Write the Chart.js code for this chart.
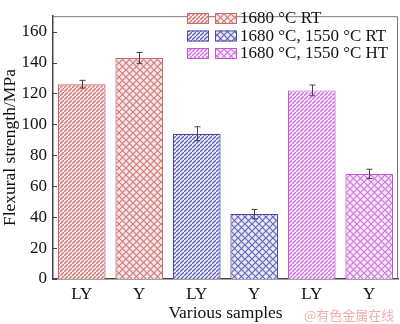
<!DOCTYPE html>
<html>
<head>
<meta charset="utf-8">
<script src="https://cdn.jsdelivr.net/npm/chart.js@4.4.0/dist/chart.umd.min.js"></script>
<style>
  html, body { margin: 0; padding: 0; background: #fff; }
  #wrap { width: 400px; height: 324px; }
</style>
</head>
<body>
<div id="wrap"><canvas id="flexChart"></canvas></div>
<script>
// --- Data ---
const samples = ["LY", "Y", "LY", "Y", "LY", "Y"];
const strength = [126, 143, 94, 42, 122, 68];
const strengthErr = [2.5, 3.5, 4.5, 3, 3.5, 3];
const groupNames = ["1680 °C RT", "1680 °C, 1550 °C RT", "1680 °C, 1550 °C HT"];
const yTicks = [0, 20, 40, 60, 80, 100, 120, 140, 160];

const serif = "'Liberation Serif', 'DejaVu Serif', serif";

// colour per treatment group: outline, hatch line, pale background
const groupColors = [
  { line: "#c86a6a", hatch: "#d07c7c", bg: "#fae6e6" },
  { line: "#4a4aa8", hatch: "#6464bc", bg: "#ececf8" },
  { line: "#c455d4", hatch: "#d276e0", bg: "#fae8fc" },
];

// hatch patterns: "/" lines for LY, crossed lines for Y
function makePattern(c, cross) {
  const size = cross ? 7 : 4;
  const p = document.createElement("canvas");
  p.width = size;
  p.height = size;
  const g = p.getContext("2d");
  g.fillStyle = c.bg;
  g.fillRect(0, 0, size, size);
  g.strokeStyle = c.hatch;
  g.lineWidth = cross ? 1.2 : 1.3;
  g.beginPath();
  g.moveTo(-1, size + 1);
  g.lineTo(size + 1, -1);
  if (cross) {
    g.moveTo(-1, -1);
    g.lineTo(size + 1, size + 1);
  }
  g.stroke();
  return g.createPattern(p, "repeat");
}

const fills = samples.map((s, i) => makePattern(groupColors[Math.floor(i / 2)], s === "Y"));
const borders = samples.map((s, i) => groupColors[Math.floor(i / 2)].line);

// error bars, inward ticks, frame, legend and credit line
const extras = {
  id: "extras",
  afterDatasetsDraw(chart) {
    const { ctx, chartArea: a, scales: { x, y } } = chart;
    ctx.save();

    // error bars
    ctx.strokeStyle = "#444";
    ctx.lineWidth = 1;
    strength.forEach((v, i) => {
      const cx = Math.round(x.getPixelForValue(i)) + 0.5;
      const t = y.getPixelForValue(v + strengthErr[i]);
      const b = y.getPixelForValue(v - strengthErr[i]);
      ctx.beginPath();
      ctx.moveTo(cx, t); ctx.lineTo(cx, b);
      ctx.moveTo(cx - 3, t); ctx.lineTo(cx + 3, t);
      ctx.moveTo(cx - 3, b); ctx.lineTo(cx + 3, b);
      ctx.stroke();
    });

    // frame top/right
    ctx.strokeStyle = "#777";
    ctx.lineWidth = 1;
    ctx.beginPath();
    ctx.moveTo(a.left, a.top + 0.5);
    ctx.lineTo(a.right - 0.5, a.top + 0.5);
    ctx.lineTo(a.right - 0.5, a.bottom);
    ctx.stroke();

    // inward y ticks
    ctx.strokeStyle = "#444";
    ctx.beginPath();
    yTicks.forEach(v => {
      const py = Math.round(y.getPixelForValue(v)) + 0.5;
      ctx.moveTo(a.left, py);
      ctx.lineTo(a.left + 4, py);
    });
    ctx.stroke();

    // legend: two swatches per group
    ctx.font = "17px " + serif;
    ctx.textBaseline = "middle";
    groupNames.forEach((name, g) => {
      const ry = 18 + g * 17.5;
      [false, true].forEach((cross, k) => {
        const bx = 187 + k * 28;
        ctx.fillStyle = makePattern(groupColors[g], cross);
        ctx.fillRect(bx, ry - 5, 22, 11);
        ctx.strokeStyle = groupColors[g].line;
        ctx.strokeRect(bx + 0.5, ry - 4.5, 21, 10);
      });
      ctx.fillStyle = "#111";
      ctx.fillText(name, 240, ry + 1);
    });

    // credit line
    ctx.font = "13px 'Noto Sans CJK SC', sans-serif";
    ctx.fillStyle = "rgba(238,160,160,0.85)";
    ctx.fillText("@有色金属在线", 304, 315);
    ctx.restore();
  },
};

new Chart(document.getElementById("flexChart"), {
  type: "bar",
  data: {
    labels: samples,
    datasets: [{
      data: strength,
      backgroundColor: fills,
      borderColor: borders,
      borderWidth: 1.2,
      categoryPercentage: 1,
      barPercentage: 0.83,
    }],
  },
  options: {
    responsive: true,
    maintainAspectRatio: false,
    animation: false,
    layout: { padding: { top: 1, right: 2, left: 0, bottom: 0 } },
    plugins: {
      legend: { display: false },
      tooltip: { enabled: false },
    },
    scales: {
      x: {
        grid: { display: false, drawTicks: false },
        border: { color: "#444", width: 1.5 },
        ticks: { color: "#111", font: { family: serif, size: 17 }, padding: 5 },
        title: {
          display: true,
          text: "Various samples",
          color: "#111",
          font: { family: serif, size: 17.5 },
          padding: { top: 1, bottom: 0 },
        },
        afterFit: (s) => { s.height = 45; },
      },
      y: {
        min: 0,
        max: 170,
        grid: { display: false, drawTicks: false },
        border: { color: "#444", width: 1.5 },
        ticks: { stepSize: 20, color: "#111", font: { family: serif, size: 17 }, padding: 6 },
        afterBuildTicks: (s) => { s.ticks = yTicks.map(v => ({ value: v })); },
        title: {
          display: true,
          text: "Flexural strength/MPa",
          color: "#111",
          font: { family: serif, size: 17.5 },
          padding: { top: 0, bottom: 1 },
        },
        afterFit: (s) => { s.width = 53; },
      },
    },
  },
  plugins: [extras],
});
</script>
</body>
</html>
